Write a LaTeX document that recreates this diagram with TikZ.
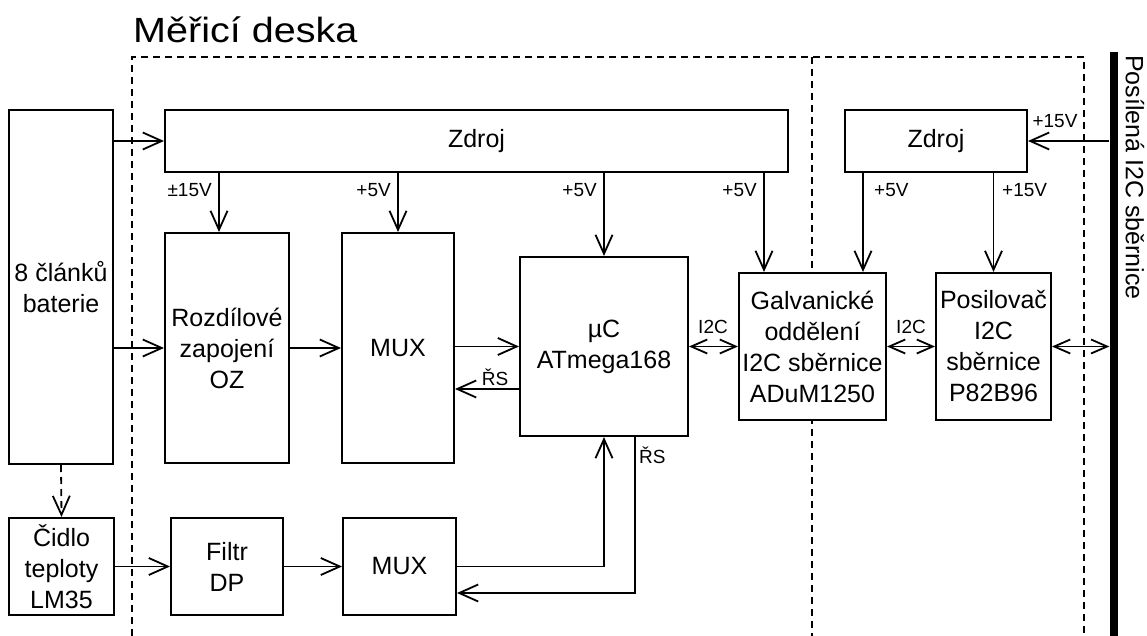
\documentclass[tikz,border=0pt]{standalone}
\usepackage{fontspec}
\setmainfont{Liberation Sans}
\newfontfamily\nadpis[FakeStretch=1.13]{Liberation Sans}
\usetikzlibrary{arrows.meta,positioning}

\begin{document}
\begin{tikzpicture}[x=1pt, y=-1pt,
  blok/.style={draw, fill=white, line width=2pt, align=center, inner sep=0pt,
               font=\fontsize{25}{31}\selectfont},
  lbl/.style={inner sep=0pt, font=\fontsize{19}{22}\selectfont},
  ar/.style={line width=1.8pt, -{Straight Barb[length=19pt,width=17pt]}},
  ar2/.style={line width=1.8pt,
              {Straight Barb[length=16pt,width=14pt]}-{Straight Barb[length=16pt,width=14pt]}},
  ramec/.style={line width=1.8pt, dash pattern=on 7pt off 5pt}]
\useasboundingbox (0,0) rectangle (1147,636);

% hranice desky
\draw[ramec] (132,636) -- (132,57) -- (1084,57) -- (1084,636);
\draw[ramec] (812,57) -- (812,636);
\node[anchor=base west, inner sep=0pt, font=\nadpis\fontsize{35}{40}\selectfont] (titul) at (133,43) {Měřicí deska};

% bloky
\node[blok, minimum width=104pt, minimum height=354pt] (bat) at (61,287) {8 článků\\baterie};
\node[blok, minimum width=623pt, minimum height=62pt] (zdroj1) at (476.5,141) {Zdroj};
\node[blok, minimum width=182pt, minimum height=62pt] (zdroj2) at (936,141) {Zdroj};
\node[blok, minimum width=124pt, minimum height=230pt] (rozdil) at (227,348) {Rozdílové\\zapojení\\OZ};
\node[blok, minimum width=112pt, minimum height=230pt] (mux1) at (398,348) {MUX};
\node[blok, minimum width=168pt, minimum height=179pt] (uc) at (604,346.5) {µC\\ATmega168};
\node[blok, minimum width=147pt, minimum height=147pt] (galv) at (812.5,346.5) {Galvanické\\oddělení\\I2C sběrnice\\ADuM1250};
\node[blok, minimum width=115pt, minimum height=147pt] (posil) at (993.5,346.5) {Posilovač\\I2C\\sběrnice\\P82B96};
\node[blok, minimum width=105pt, minimum height=97pt] (cidlo) at (61.5,566.5) {Čidlo\\teploty\\LM35};
\node[blok, minimum width=112pt, minimum height=97pt] (filtr) at (227,566.5) {Filtr\\DP};
\node[blok, minimum width=113pt, minimum height=97pt] (mux2) at (399.5,566.5) {MUX};

% sbernice
\node[fill, inner sep=0pt, minimum width=8pt, minimum height=584pt] (sbernice) at (1113.5,344) {};
\node[rotate=-90, anchor=west, inner sep=0pt, font=\fontsize{25}{31}\selectfont] (sbtext) at (1135,55) {Posílená I2C sběrnice};

% napajeni
\draw[ar] (bat.east |- zdroj1) -- (zdroj1.west);
\draw[ar] (219,0 |- zdroj1.south) -- (219,0 |- rozdil.north);
\draw[ar] (zdroj1.south -| mux1) -- (mux1.north);
\draw[ar] (zdroj1.south -| uc) -- (uc.north);
\draw[ar] (764,0 |- zdroj1.south) -- (764,0 |- galv.north);
\draw[ar] (863,0 |- zdroj2.south) -- (863,0 |- galv.north);
\draw[ar] (zdroj2.south -| posil) -- (posil.north);
\draw[ar] (sbernice.west |- zdroj2) -- (zdroj2.east);
\node[lbl, anchor=base east] at (212,197) {±15V};
\node[lbl, anchor=base east] at (391,197) {+5V};
\node[lbl, anchor=base east] at (597,197) {+5V};
\node[lbl, anchor=base east] at (757,197) {+5V};
\node[lbl, anchor=base west] at (874,197) {+5V};
\node[lbl, anchor=base west] at (1002,197) {+15V};
\node[lbl, anchor=base] at (1055,128) {+15V};

% signaly
\draw[ar] (bat.east |- rozdil) -- (rozdil.west);
\draw[ar] (rozdil.east) -- (mux1.west);
\draw[ar] (mux1.east |- uc) -- (uc.west);
\draw[ar] (uc.west |- 0,389) -- (mux1.east |- 0,389);
\node[lbl, anchor=base] at (495,385) {ŘS};
\draw[ar2] (uc.east) -- (galv.west);
\draw[ar2] (galv.east) -- (posil.west);
\draw[ar2] (posil.east) -- (sbernice.west |- posil);
\node[lbl, anchor=base] at (713,333) {I2C};
\node[lbl, anchor=base] at (911,333) {I2C};

% teplota
\draw[ar, dash pattern=on 7pt off 5pt] (bat.south) -- (cidlo.north);
\draw[ar] (cidlo.east) -- (filtr.west);
\draw[ar] (filtr.east) -- (mux2.west);
\draw[ar] (mux2.east) -| (uc.south);
\draw[ar] (635,0 |- uc.south) |- (mux2.east |- 0,593);
\node[lbl, anchor=base west] at (639,463) {ŘS};
\end{tikzpicture}
\end{document}
